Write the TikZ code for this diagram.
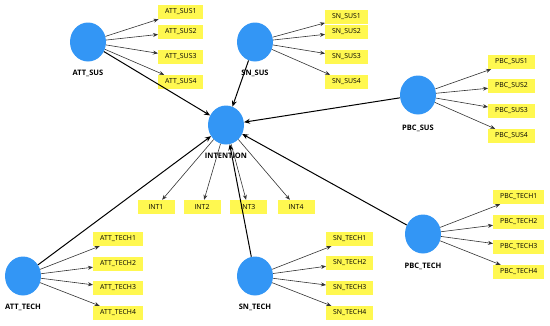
\documentclass[tikz,border=0pt]{standalone}
\usepackage{fontspec}
\setmainfont{Open Sans}
\usetikzlibrary{shapes.geometric,arrows.meta}
\definecolor{lvblue}{RGB}{51,150,245}
\definecolor{indyellow}{RGB}{255,248,80}
\begin{document}
\begin{tikzpicture}[x=1pt,y=-1pt,
 lv/.style={ellipse,fill=lvblue,minimum width=36pt,minimum height=39pt,inner sep=0pt},
 lvlabel/.style={font=\fontsize{7.5}{8}\selectfont\bfseries,inner sep=1pt},
 ind/.style={rectangle,fill=indyellow,minimum height=14pt,minimum width=37pt,inner xsep=7pt,inner ysep=0pt,font=\fontsize{6.9}{7}\selectfont},
 load/.style={draw=black!80,line width=0.6pt,-{Stealth[length=5pt,width=4pt]}},
 strpath/.style={draw=black,line width=1pt,-{Stealth[length=6pt,width=5pt]}}
]
\useasboundingbox (0,0) rectangle (550,325);
% latent variables
\node[lv] (attsus) at (88,42) {};
\node[lvlabel] (attsusL) at (88,73) {ATT\_SUS};
\node[lv] (snsus) at (255,42) {};
\node[lvlabel] (snsusL) at (255,73) {SN\_SUS};
\node[lv] (pbcsus) at (418,95) {};
\node[lvlabel] (pbcsusL) at (418,128) {PBC\_SUS};
\node[lv] (int) at (226,125) {};
\node[lvlabel] (intL) at (226,156) {INTENTION};
\node[lv] (atttech) at (23,276) {};
\node[lvlabel] (atttechL) at (23,307) {ATT\_TECH};
\node[lv] (sntech) at (255,276) {};
\node[lvlabel] (sntechL) at (255,307) {SN\_TECH};
\node[lv] (pbctech) at (423,234) {};
\node[lvlabel] (pbctechL) at (423,266) {PBC\_TECH};
% indicators
\foreach \i/\y in {1/12,2/32,3/57,4/82}{
  \node[ind,anchor=west] (attsus\i) at (158,\y) {ATT\_SUS\i};
  \draw[load] (attsus) -- (attsus\i);}
\foreach \i/\y in {1/17,2/32,3/57,4/82}{
  \node[ind,anchor=west] (snsus\i) at (325,\y) {SN\_SUS\i};
  \draw[load] (snsus) -- (snsus\i);}
\foreach \i/\y in {1/62,2/86,3/111,4/136}{
  \node[ind,anchor=west] (pbcsus\i) at (488,\y) {PBC\_SUS\i};
  \draw[load] (pbcsus) -- (pbcsus\i);}
\foreach \i/\x in {1/156,2/202,3/248,4/296}{
  \node[ind] (int\i) at (\x,207) {INT\i};
  \draw[load] (int) -- (int\i);}
\foreach \i/\y in {1/239,2/264,3/288,4/313}{
  \node[ind,anchor=west] (atttech\i) at (93,\y) {ATT\_TECH\i};
  \draw[load] (atttech) -- (atttech\i);}
\foreach \i/\y in {1/239,2/263,3/288,4/313}{
  \node[ind,anchor=west] (sntech\i) at (326,\y) {SN\_TECH\i};
  \draw[load] (sntech) -- (sntech\i);}
\foreach \i/\y in {1/197,2/222,3/247,4/272}{
  \node[ind,anchor=west] (pbctech\i) at (493,\y) {PBC\_TECH\i};
  \draw[load] (pbctech) -- (pbctech\i);}
% structural paths
\draw[strpath] (attsus) -- (int);
\draw[strpath] (snsus) -- (int);
\draw[strpath] (pbcsus) -- (int);
\draw[strpath] (atttech) -- (int);
\draw[strpath] (sntech) -- (int);
\draw[strpath] (pbctech) -- (int);
\end{tikzpicture}
\end{document}
